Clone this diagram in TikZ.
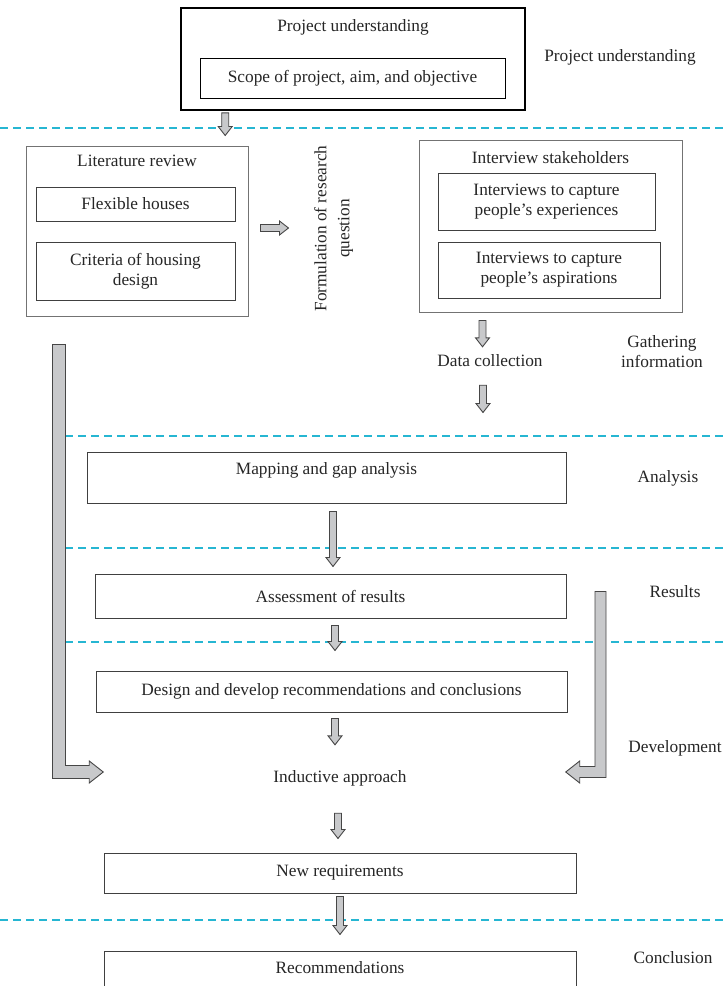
\documentclass[tikz,border=0pt]{standalone}
\usepackage{fontspec}
\setmainfont{Liberation Serif}
\usetikzlibrary{positioning,calc}
\definecolor{sepcyan}{RGB}{38,182,210}
\definecolor{blkgray}{RGB}{200,201,203}
\definecolor{blkedge}{RGB}{70,70,70}
\tikzset{
  box/.style={draw=black!75, line width=1pt, align=center, inner sep=0pt, text=black!85},
  txt/.style={align=center, inner sep=0pt, text=black!85},
  lbl/.style={txt, text height=12pt, text depth=4pt},
  sepline/.style={sepcyan, line width=1.5pt, dash pattern=on 8pt off 5pt},
  blkarrow/.style={fill=blkgray, draw=blkedge, line width=0.9pt, line join=miter},
}
% block arrow pointing down, from #1 to the height of #2
\newcommand{\blkdown}[2]{%
  \path (#1) coordinate (bs) (#2) coordinate (bt);
  \path (bs |- bt) coordinate (be);
  \draw[blkarrow] ($(bs)+(-3.5,0)$) -- ($(be)+(-3.5,-9)$) -- ($(be)+(-7,-9)$) -- (be)
    -- ($(be)+(7,-9)$) -- ($(be)+(3.5,-9)$) -- ($(bs)+(3.5,0)$) -- cycle;}
% L-shaped block arrow: down from #1, then sideways to tip #2 (#3 = 1 right, -1 left), half width #4
\newcommand{\blkcorner}[4]{%
  \path (#1) coordinate (bs) (#2) coordinate (be);
  \path (bs |- be) coordinate (bc);
  \draw[blkarrow] ($(bs)+({-(#3)*#4},0)$) -- ($(bc)+({-(#3)*#4},#4)$)
    -- ($(be)+({-(#3)*14},#4)$) -- ($(be)+({-(#3)*14},11)$) -- (be)
    -- ($(be)+({-(#3)*14},-11)$) -- ($(be)+({-(#3)*14},-#4)$)
    -- ($(bc)+({(#3)*#4},-#4)$) -- ($(bs)+({(#3)*#4},0)$) -- cycle;}
\begin{document}
\begin{tikzpicture}[x=1pt, y=-1pt, font=\fontsize{17.3}{20}\selectfont]
  \useasboundingbox (0,0) rectangle (725,986);
  \fill[white] (0,0) rectangle (725,986);
  \clip (0,0) rectangle (725,986);

  % phase separators
  \draw[sepline] (0,128) -- (725,128);
  \draw[sepline] (52,436) -- (725,436);
  \draw[sepline] (52,548) -- (725,548);
  \draw[sepline] (52,642) -- (725,642);
  \draw[sepline] (0,920) -- (725,920);

  \node[box, draw=black, line width=1.6pt, minimum width=344pt, minimum height=102pt] (top) at (353,59) {};
  \node[txt, below=12pt of top.north] (toptitle) {Project understanding};
  \node[box, draw=black, minimum width=305pt, minimum height=40pt] (scope) at (352.5,78) {Scope of project, aim, and objective};
  \node[txt] (lblproj) at (620,57) {Project understanding};

  \node[box, draw=black!55, minimum width=222pt, minimum height=170pt] (lit) at (137,231) {};
  \node[txt, below=9pt of lit.north] (littitle) {Literature review};
  \node[box, minimum width=199pt, minimum height=34pt] (flex) at (135.5,204) {Flexible houses};
  \node[box, minimum width=199pt, minimum height=58pt] (crit) at (135.5,271) {Criteria of housing\\design};
  \node[txt, rotate=90] (formq) at (333.5,228.5) {Formulation of research\\[3pt]question};

  \node[box, draw=black!55, minimum width=263pt, minimum height=172pt] (intv) at (550.5,226) {};
  \node[txt, below=12pt of intv.north] (intvtitle) {Interview stakeholders};
  \node[box, minimum width=217pt, minimum height=57pt] (exp) at (546.5,201.5) {Interviews to capture\\people’s experiences};
  \node[box, minimum width=222pt, minimum height=56pt] (asp) at (549,270) {Interviews to capture\\people’s aspirations};
  \node[lbl] (data) at (490,362) {Data collection};
  \node[txt] (lblgath) at (662,352) {Gathering\\information};

  \node[box, minimum width=479pt, minimum height=51pt] (map) at (326.5,477.5) {};
  \node[txt, below=11pt of map.north] (maptext) {Mapping and gap analysis};
  \node[txt] (lblana) at (668,478) {Analysis};

  \node[box, minimum width=471pt, minimum height=44pt] (ass) at (330.5,596) {Assessment of results};
  \node[txt] (lblres) at (675,592) {Results};

  \node[box, minimum width=471pt, minimum height=41pt] (dev) at (331.5,691.5) {Design and develop recommendations and conclusions};
  \node[lbl] (ind) at (340,778) {Inductive approach};
  \node[txt] (lbldev) at (675,748) {Development};

  \node[box, minimum width=472pt, minimum height=40pt] (newreq) at (340,873) {New requirements};
  \node[box, minimum width=472pt, minimum height=50pt] (rec) at (340,976) {};
  \node[txt, below=11pt of rec.north] (rectext) {Recommendations};
  \node[txt] (lblcon) at (673,958) {Conclusion};

  % block arrows
  \blkdown{$(top.south west)+(45,2)$}{$(lit.north)+(0,-10)$}
  \path ($(lit.east)+(12,-3)$) coordinate (hs) ($(lit.east)+(40,-3)$) coordinate (he);
  \draw[blkarrow] ($(hs)+(0,-3.5)$) -- ($(he)+(-9,-3.5)$) -- ($(he)+(-9,-7)$) -- (he)
    -- ($(he)+(-9,7)$) -- ($(he)+(-9,3.5)$) -- ($(hs)+(0,3.5)$) -- cycle;
  \blkdown{$(intv.south west)+(64,8)$}{$(data.north)+(0,-7)$}
  \blkdown{$(data.south)+(-7,15)$}{$(map.north)+(0,-39)$}
  \blkdown{$(map.south)+(6.5,8)$}{$(ass.north)+(0,-7)$}
  \blkdown{$(ass.south)+(4.5,7)$}{$(dev.north)+(0,-20)$}
  \blkdown{$(dev.south)+(3.5,6)$}{$(ind.north)+(0,-25)$}
  \blkdown{$(ind.south)+(-2,27)$}{$(newreq.north)+(0,-14)$}
  \blkdown{$(newreq.south)+(0,3)$}{$(rec.north)+(0,-16)$}
  \blkcorner{$(lit.south west)+(33.5,28)$}{$(ind.west)+(-170,-6)$}{1}{6.5}
  \blkcorner{$(ass.north east)+(34,18)$}{$(ind.east)+(159,-6)$}{-1}{5.5}
\end{tikzpicture}
\end{document}
